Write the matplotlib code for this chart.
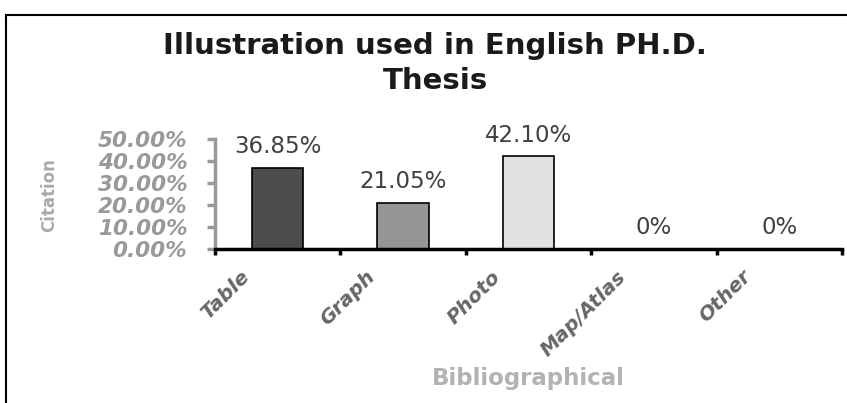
import matplotlib
matplotlib.use("Agg")
import matplotlib.pyplot as plt
import matplotlib.transforms as mtransforms
from matplotlib.patches import Rectangle

categories = ["Table", "Graph", "Photo", "Map/Atlas", "Other"]
values = [0.3685, 0.2105, 0.4210, 0.0, 0.0]
value_labels = ["36.85%", "21.05%", "42.10%", "0%", "0%"]
bar_colors = ["#4d4d4d", "#969696", "#e0e0e0", "#e0e0e0", "#e0e0e0"]
y_ticks = [0.0, 0.1, 0.2, 0.3, 0.4, 0.5]
y_tick_labels = ["0.00%", "10.00%", "20.00%", "30.00%", "40.00%", "50.00%"]


def main():
    fig = plt.figure(figsize=(8.47, 4.03), dpi=100)
    fig.patch.set_facecolor("white")

    # outer chart border (runs off the right and bottom edges)
    fig.patches.append(Rectangle((6 / 847, -0.1), 1.2, 1.1 - 15 / 403,
                                 transform=fig.transFigure, fill=False,
                                 edgecolor="black", linewidth=1.5, clip_on=False))

    ax = fig.add_axes([215 / 847, 1 - 249 / 403, (842 - 215) / 847, 110 / 403])
    x = list(range(len(categories)))
    ax.bar(x, values, width=0.41, color=bar_colors, edgecolor="black", linewidth=1.2)

    for xi, v, lab in zip(x, values, value_labels):
        ax.annotate(lab, (xi, v), xytext=(0, 7), textcoords="offset points",
                    ha="center", va="bottom", fontsize=16.5, color="#404040",
                    family="DejaVu Sans")

    ax.set_xlim(-0.5, len(categories) - 0.5)
    ax.set_ylim(0, 0.5)

    for s in ["top", "right"]:
        ax.spines[s].set_visible(False)
    ax.spines["left"].set_color("#999999")
    ax.spines["left"].set_linewidth(2.5)
    ax.spines["bottom"].set_color("black")
    ax.spines["bottom"].set_linewidth(2.5)
    ax.spines["bottom"].set_zorder(5)

    ax.set_yticks(y_ticks)
    ax.set_yticklabels(y_tick_labels, fontsize=15.5, fontweight="bold",
                       fontstyle="italic", color="#999999", family="DejaVu Sans")
    ax.tick_params(axis="y", direction="out", length=6, width=2.5,
                   color="#999999", pad=14)

    # category labels at centres, tick marks between categories
    ax.set_xticks(x)
    ax.set_xticklabels(categories, rotation=45, ha="right", va="top",
                       rotation_mode="anchor", fontsize=14.5, fontweight="bold",
                       fontstyle="italic", color="#666666", family="DejaVu Sans")
    ax.tick_params(axis="x", which="major", length=0, pad=0)
    ax.set_xticks([i - 0.5 for i in range(len(categories) + 1)], minor=True)
    ax.tick_params(axis="x", which="minor", direction="out", length=4,
                   width=2.5, color="black")
    shift = mtransforms.ScaledTranslation(-38 / 100, -18 / 100, fig.dpi_scale_trans)
    for lab in ax.get_xticklabels():
        lab.set_transform(lab.get_transform() + shift)

    fig.text(528 / 847, 1 - 378 / 403, "Bibliographical", ha="center", va="center",
             fontsize=16.5, fontweight="bold", color="#b3b3b3", family="DejaVu Sans")
    fig.text(49 / 847, 1 - 195 / 403, "Citation", rotation=90, ha="center",
             va="center", fontsize=12, fontweight="bold", color="#aaaaaa",
             family="DejaVu Sans")

    fig.text(435 / 847, 1 - 46 / 403, "Illustration used in English PH.D.",
             ha="center", va="center", fontsize=21, fontweight="bold",
             color="#1a1a1a", family="DejaVu Sans")
    fig.text(435 / 847, 1 - 81 / 403, "Thesis", ha="center", va="center",
             fontsize=21, fontweight="bold", color="#1a1a1a", family="DejaVu Sans")

    fig.savefig("out.png", dpi=100, facecolor="white")


if __name__ == '__main__':
    main()
